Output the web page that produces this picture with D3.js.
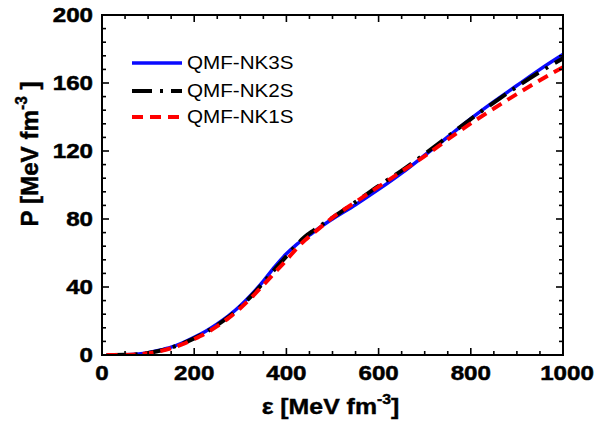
<!DOCTYPE html>
<html><head><meta charset="utf-8">
<script src="https://cdn.jsdelivr.net/npm/d3@7"></script>
<style>body{margin:0;background:#fff}svg{display:block}text{font-family:"Liberation Sans",Arial,sans-serif}</style>
</head><body>
<svg id="c" width="615" height="427"></svg>
<script>
const seriesNames = ["QMF-NK3S","QMF-NK2S","QMF-NK1S"];
const nk3s = [[10,0],[50,0.1],[80,0.6],[100,1.4],[125,2.8],[150,4.6],[175,7.2],[200,10.4],[225,14],[250,18.3],[275,23.2],[300,29],[325,35.8],[350,43.5],[375,52],[400,59.5],[420,64.5],[450,70.5],[475,75.5],[500,80],[550,88.4],[600,97.4],[650,107],[700,117.5],[750,128.3],[800,139],[850,149],[900,158.5],[950,168],[1000,176.8]];
const nk2s = [[10,0],[50,0.1],[80,0.5],[100,1.2],[125,2.5],[150,4.3],[175,6.8],[200,9.8],[225,13.4],[250,17.6],[275,22.5],[300,28.3],[325,35],[350,42.5],[375,50.5],[400,58],[420,64.2],[440,69.5],[460,73.5],[500,80.8],[550,90],[600,99.5],[650,108.5],[700,118.3],[750,128.5],[800,138.8],[850,148.5],[900,157.8],[950,166.5],[1000,174.5]];
const nk1s = [[10,0],[50,0.05],[80,0.4],[100,1.0],[125,2.2],[150,4.0],[175,6.4],[200,9.4],[225,12.8],[250,17],[275,21.8],[300,27.5],[325,34],[350,41.2],[375,48.5],[400,55.8],[420,62],[440,67.5],[460,72],[500,80.8],[550,90],[600,99],[650,108],[700,117],[750,126.8],[800,136.2],[850,145],[900,153.5],[950,161.6],[1000,169.3]];
const xTicks = [0,200,400,600,800,1000];
const yTicks = [0,40,80,120,160,200];
const colors = ["#0a0aff","#000000","#ff0000"];
const dashes = [null,"20 8 3 8","11 7"];

const svg = d3.select("#c");
const M = {l:102, r:563, t:15, b:355};
const x = d3.scaleLinear().domain([0,1000]).range([M.l,M.r]);
const y = d3.scaleLinear().domain([0,200]).range([M.b,M.t]);
function stretch(sel, SX){
  SX = SX||1.15;
  sel.each(function(){
    const t=d3.select(this);
    const tx=+t.attr("x")||0, ty=+t.attr("y")||0;
    t.attr("transform",`translate(${tx},${ty}) scale(${SX},1) translate(${-tx},${-ty})`);
  });
}

// curves
const line = d3.line().x(d=>x(d[0])).y(d=>y(d[1])).curve(d3.curveMonotoneX);
const plotG = svg.append("g");
plotG.append("clipPath").attr("id","clip").append("rect").attr("x",M.l).attr("y",M.t).attr("width",M.r-M.l).attr("height",M.b-M.t);
[nk3s,nk2s,nk1s].forEach((s,i)=>{
  plotG.append("path").attr("d",line(s)).attr("fill","none").attr("stroke",colors[i])
    .attr("stroke-width",i==0?3.5:4).attr("stroke-dasharray",dashes[i]).attr("clip-path","url(#clip)");
});

// ticks (inward, all sides)
const tg = svg.append("g").attr("stroke","#000").attr("stroke-width",1.6);
const xMinor = d3.range(0,1001,50), yMinor = d3.range(0,201,8);
xMinor.forEach(v=>{
  const L = v%200===0?7:4;
  tg.append("line").attr("x1",x(v)).attr("x2",x(v)).attr("y1",M.b).attr("y2",M.b-L);
  tg.append("line").attr("x1",x(v)).attr("x2",x(v)).attr("y1",M.t).attr("y2",M.t+L);
});
yMinor.forEach(v=>{
  const L = v%40===0?7:4;
  tg.append("line").attr("y1",y(v)).attr("y2",y(v)).attr("x1",M.l).attr("x2",M.l+L);
  tg.append("line").attr("y1",y(v)).attr("y2",y(v)).attr("x1",M.r).attr("x2",M.r-L);
});
svg.append("rect").attr("x",M.l).attr("y",M.t).attr("width",M.r-M.l).attr("height",M.b-M.t)
  .attr("fill","none").attr("stroke","#000").attr("stroke-width",2);

// tick labels
svg.append("g").selectAll("text").data(xTicks).join("text")
  .attr("x",d=>x(d)+(d===1000?4:0)).attr("y",M.b+25.5).attr("text-anchor","middle")
  .attr("font-size",21).attr("font-weight","bold").attr("stroke","#000").attr("stroke-width",0.5)
  .text(d=>d).call(stretch,1.15);
svg.append("g").selectAll("text").data(yTicks).join("text")
  .attr("x",M.l-9).attr("y",d=>y(d)+7.5).attr("text-anchor","end")
  .attr("font-size",21).attr("font-weight","bold").attr("stroke","#000").attr("stroke-width",0.5)
  .text(d=>d).call(stretch,1.15);

// axis titles
const xt = svg.append("text").attr("x",(M.l+M.r)/2-2).attr("y",414).attr("text-anchor","middle")
  .attr("font-size",22).attr("font-weight","bold").attr("stroke","#000").attr("stroke-width",0.4);
xt.append("tspan").text("ε [MeV fm");
xt.append("tspan").attr("font-size",14).attr("dy",-10).text("-3");
xt.append("tspan").attr("dy",10).text("]");
stretch(xt,1.13);

const yt = svg.append("text").attr("transform","translate(38,154) rotate(-90) scale(1.1,1.12)")
  .attr("text-anchor","middle").attr("font-size",22).attr("font-weight","bold").attr("stroke","#000").attr("stroke-width",0.4);
yt.append("tspan").text("P [MeV fm");
yt.append("tspan").attr("font-size",14).attr("dy",-10).text("-3");
yt.append("tspan").attr("dy",10).text(" ]");

// legend
const ly = [63,91,117];
seriesNames.forEach((n,i)=>{
  svg.append("line").attr("x1",132).attr("x2",182).attr("y1",ly[i]).attr("y2",ly[i])
    .attr("stroke",colors[i]).attr("stroke-width",i==0?3.5:4).attr("stroke-dasharray",dashes[i]);
  svg.append("text").attr("x",187).attr("y",ly[i]+6.5).attr("font-size",17.5).text(n).call(stretch,1.18);
});
</script>
</body></html>
